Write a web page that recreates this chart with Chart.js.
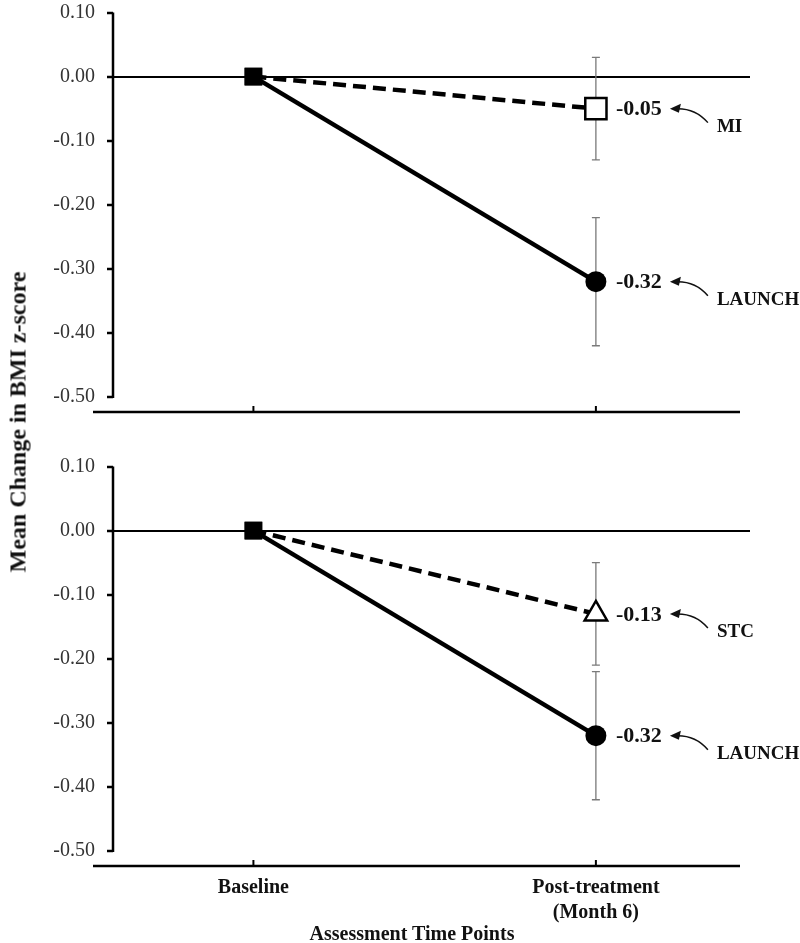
<!DOCTYPE html>
<html>
<head>
<meta charset="utf-8">
<script src="https://cdn.jsdelivr.net/npm/chart.js@4.4.0/dist/chart.umd.min.js"></script>
<style>
  body { margin: 0; background: #fff; overflow: hidden; }
  #wrap { position: relative; width: 800px; height: 943px; overflow: hidden; font-family: "Liberation Serif", "Times New Roman", serif; }
  canvas { position: absolute; left: 0; }
  #top-chart { top: -5px; }
  #bottom-chart { top: 451px; }
  #ytitle { position: absolute; left: 18px; top: 422px; transform: translate(-50%, -50%) rotate(-90deg);
            font-weight: bold; font-size: 24px; white-space: nowrap; color: #111; }
  #xtitle { position: absolute; left: 412px; top: 933px; transform: translate(-50%, -50%);
            font-weight: bold; font-size: 20px; white-space: nowrap; color: #111; }
</style>
</head>
<body>
<div id="wrap">
  <canvas id="top-chart" width="800" height="445"></canvas>
  <canvas id="bottom-chart" width="800" height="492"></canvas>
  <div id="ytitle">Mean Change in BMI z-score</div>
  <div id="xtitle">Assessment Time Points</div>
</div>
<script>
// time points
var timeLabels = ['Baseline', ['Post-treatment', '(Month 6)']];
var timeValues = [0, 1];
var yTicks = [0.10, 0.00, -0.10, -0.20, -0.30, -0.40, -0.50];

// top panel: LAUNCH vs MI
var launchTop = [0, -0.32];
var launchTopLow = [null, -0.42];
var launchTopHigh = [null, -0.22];
var miTop = [0, -0.05];
var miTopLow = [null, -0.13];
var miTopHigh = [null, 0.03];

// bottom panel: LAUNCH vs STC
var launchBottom = [0, -0.32];
var launchBottomLow = [null, -0.42];
var launchBottomHigh = [null, -0.22];
var stcBottom = [0, -0.13];
var stcBottomLow = [null, -0.21];
var stcBottomHigh = [null, -0.05];

var serif = '"Liberation Serif", "Times New Roman", serif';

function makeDataset(name, values, low, high, marker, dashed) {
  return {
    label: name,
    data: timeValues.map(function (t, i) { return { x: t, y: values[i] }; }),
    low: low,
    high: high,
    borderColor: '#000',
    borderWidth: 4.5,
    borderDash: dashed ? [13, 7] : [],
    tension: 0,
    pointStyle: ['rect', marker],
    pointRadius: [12.5, marker === 'circle' ? 10.5 : (marker === 'rect' ? 15 : 13)],
    pointBackgroundColor: ['#000', marker === 'circle' ? '#000' : '#fff'],
    pointBorderColor: '#000',
    pointBorderWidth: [0, marker === 'circle' ? 0 : 2.5]
  };
}

var decorPlugin = {
  id: 'decor',
  beforeDatasetsDraw: function (chart) {
    var ctx = chart.ctx;
    var area = chart.chartArea;
    var xs = chart.scales.x;
    ctx.save();
    ctx.strokeStyle = '#000';
    // y axis line
    ctx.lineWidth = 2.5;
    ctx.beginPath();
    ctx.moveTo(area.left, area.top);
    ctx.lineTo(area.left, area.bottom + 1);
    ctx.stroke();
    // x axis line sits below the -0.50 tick
    var axisY = area.bottom + 15;
    ctx.beginPath();
    ctx.moveTo(area.left - 20, axisY);
    ctx.lineTo(area.right - 10, axisY);
    ctx.stroke();
    ctx.lineWidth = 2;
    timeValues.forEach(function (t) {
      var px = xs.getPixelForValue(t);
      ctx.beginPath();
      ctx.moveTo(px, axisY);
      ctx.lineTo(px, axisY - 6);
      ctx.stroke();
    });
    // error bars
    ctx.strokeStyle = '#7a7a7a';
    ctx.lineWidth = 1.3;
    chart.data.datasets.forEach(function (ds) {
      timeValues.forEach(function (t, i) {
        if (ds.low[i] === null) return;
        var px = xs.getPixelForValue(t);
        var yl = chart.scales.y.getPixelForValue(ds.low[i]);
        var yh = chart.scales.y.getPixelForValue(ds.high[i]);
        ctx.beginPath();
        ctx.moveTo(px, yl); ctx.lineTo(px, yh);
        ctx.moveTo(px - 4, yl); ctx.lineTo(px + 4, yl);
        ctx.moveTo(px - 4, yh); ctx.lineTo(px + 4, yh);
        ctx.stroke();
      });
    });
    ctx.restore();
  },
  afterDatasetsDraw: function (chart) {
    var ctx = chart.ctx;
    ctx.save();
    chart.data.datasets.forEach(function (ds, d) {
      var meta = chart.getDatasetMeta(d);
      var last = ds.data.length - 1;
      var pt = meta.data[last];
      var px = pt.x, py = pt.y;
      ctx.fillStyle = '#111';
      ctx.textAlign = 'left';
      ctx.textBaseline = 'middle';
      ctx.font = 'bold 22px ' + serif;
      ctx.fillText(ds.data[last].y.toFixed(2), px + 20, py + 1);
      ctx.font = 'bold 19px ' + serif;
      ctx.fillText(ds.label, px + 121, py + 18);
      // curved arrow from group name to value
      ctx.strokeStyle = '#111';
      ctx.lineWidth = 1.5;
      ctx.beginPath();
      ctx.moveTo(px + 112, py + 14);
      ctx.quadraticCurveTo(px + 100, py, px + 82, py);
      ctx.stroke();
      ctx.beginPath();
      ctx.moveTo(px + 74, py);
      ctx.lineTo(px + 85, py - 5);
      ctx.lineTo(px + 83, py + 4);
      ctx.closePath();
      ctx.fill();
    });
    ctx.restore();
  }
};

function makeChart(canvasId, datasets, showLabels) {
  var canvas = document.getElementById(canvasId);
  return new Chart(canvas.getContext('2d'), {
    type: 'line',
    data: { datasets: datasets },
    options: {
      responsive: false,
      animation: false,
      events: [],
      clip: false,
      layout: { padding: { top: 7, right: 50, left: 0, bottom: 0 } },
      plugins: { legend: { display: false }, tooltip: { enabled: false } },
      scales: {
        x: {
          type: 'linear',
          min: -0.41,
          max: 1.45,
          afterBuildTicks: function (scale) {
            scale.ticks = timeValues.map(function (v) { return { value: v }; });
          },
          afterFit: function (scale) {
            scale.height = showLabels ? 92 : 43;
            scale.paddingLeft = 0; scale.paddingRight = 0;
          },
          grid: { display: false, drawTicks: false },
          border: { display: false },
          ticks: {
            display: showLabels,
            padding: 24,
            color: '#111',
            font: { family: serif, size: 20, weight: 'bold', lineHeight: 1.25 },
            callback: function (v, i) { return timeLabels[i]; }
          }
        },
        y: {
          min: -0.5,
          max: 0.1,
          afterBuildTicks: function (scale) {
            scale.ticks = yTicks.map(function (v) { return { value: v }; });
          },
          afterFit: function (scale) {
            scale.width = 113;
            scale.paddingTop = 0; scale.paddingBottom = 0;
          },
          border: { display: false },
          grid: {
            drawTicks: true,
            tickLength: 6,
            tickWidth: 2.5,
            tickColor: '#000',
            lineWidth: 2,
            color: function (c) { return c.tick && Math.abs(c.tick.value) < 1e-9 ? '#000' : 'rgba(0,0,0,0)'; }
          },
          ticks: {
            padding: 12,
            color: '#333',
            font: { family: serif, size: 20 },
            callback: function (v) { return v.toFixed(2); }
          }
        }
      }
    },
    plugins: [decorPlugin]
  });
}

makeChart('top-chart', [
  makeDataset('LAUNCH', launchTop, launchTopLow, launchTopHigh, 'circle', false),
  makeDataset('MI', miTop, miTopLow, miTopHigh, 'rect', true)
], false);

makeChart('bottom-chart', [
  makeDataset('LAUNCH', launchBottom, launchBottomLow, launchBottomHigh, 'circle', false),
  makeDataset('STC', stcBottom, stcBottomLow, stcBottomHigh, 'triangle', true)
], true);
</script>
</body>
</html>
